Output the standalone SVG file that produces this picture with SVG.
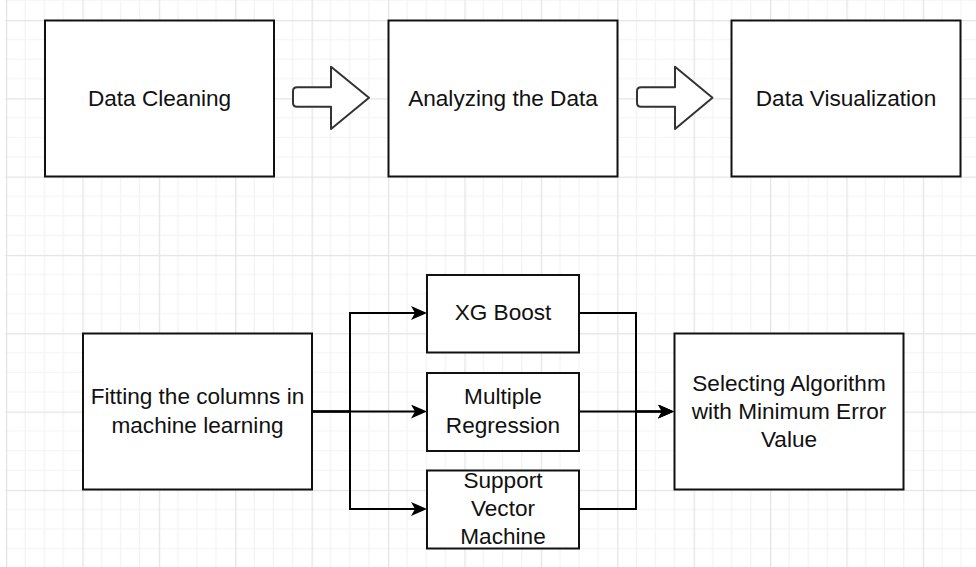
<svg xmlns="http://www.w3.org/2000/svg" width="976" height="567" viewBox="0 0 976 567">
  <defs>
    <!-- background grid: four minor cells per major cell -->
    <pattern id="grid" patternUnits="userSpaceOnUse" x="6" y="20" width="76.4" height="78.3">
      <g stroke="#f3f3f3" stroke-width="1.2">
        <line x1="19.1" y1="0" x2="19.1" y2="78.3"/>
        <line x1="38.2" y1="0" x2="38.2" y2="78.3"/>
        <line x1="57.3" y1="0" x2="57.3" y2="78.3"/>
        <line x1="0" y1="19.58" x2="76.4" y2="19.58"/>
        <line x1="0" y1="39.15" x2="76.4" y2="39.15"/>
        <line x1="0" y1="58.73" x2="76.4" y2="58.73"/>
      </g>
      <g stroke="#e4e4e4" stroke-width="1.3">
        <line x1="0.6" y1="0" x2="0.6" y2="78.3"/>
        <line x1="0" y1="0.6" x2="76.4" y2="0.6"/>
      </g>
    </pattern>
    <marker id="arrow" markerUnits="userSpaceOnUse" viewBox="0 0 16 14" refX="12" refY="7" markerWidth="16" markerHeight="14" orient="auto">
      <path d="M0,0 L16,7 L0,14 L4,7 Z" fill="#000"/>
    </marker>
  </defs>
  <style>
    .box { fill: #fff; stroke: #111; stroke-width: 2; }
    .label { font-family: "Liberation Sans", Arial, sans-serif; font-size: 22.6px; fill: #111; text-anchor: middle; }
    .block { fill: #fff; stroke: #333; stroke-width: 2; stroke-linejoin: round; }
    .edge { fill: none; stroke: #000; stroke-width: 2; marker-end: url(#arrow); }
  </style>

  <rect width="976" height="567" fill="#fff"/>
  <rect x="5" y="0" width="971" height="567" fill="url(#grid)"/>

  <!-- top row -->
  <g id="data-cleaning">
    <rect class="box" x="45" y="20.5" width="229" height="156"/>
    <text class="label" x="159.5" y="105.5">Data Cleaning</text>
  </g>
  <g id="block-arrow-1">
    <path class="block" d="M297,87.3 H331 V66.7 L369,97.7 L331,129 V106.7 H297 Q293,106.7 293,102.7 V91.3 Q293,87.3 297,87.3 Z"/>
  </g>
  <g id="analyzing">
    <rect class="box" x="388.5" y="20.5" width="229" height="156"/>
    <text class="label" x="503" y="105.5">Analyzing the Data</text>
  </g>
  <g id="block-arrow-2">
    <path class="block" d="M641,87.3 H675 V66.7 L712.5,97.7 L675,129 V106.7 H641 Q637,106.7 637,102.7 V91.3 Q637,87.3 641,87.3 Z"/>
  </g>
  <g id="data-visualization">
    <rect class="box" x="731.5" y="20.5" width="229" height="156"/>
    <text class="label" x="846" y="105.5">Data Visualization</text>
  </g>

  <!-- connectors -->
  <g id="connectors">
    <path class="edge" d="M312,411.5 H423"/>
    <path class="edge" d="M312,411.5 H350 V313 H423"/>
    <path class="edge" d="M312,411.5 H350 V509 H423"/>
    <path class="edge" d="M579,313 H636 V411.5 H670"/>
    <path class="edge" d="M579,411.5 H670"/>
    <path class="edge" d="M579,509 H636 V411.5 H670"/>
  </g>

  <!-- bottom row -->
  <g id="fitting">
    <rect class="box" x="83" y="333.5" width="229" height="156"/>
    <text class="label" x="197.5" y="404">Fitting the columns in</text>
    <text class="label" x="197.5" y="432.5">machine learning</text>
  </g>
  <g id="xg-boost">
    <rect class="box" x="427" y="275" width="152" height="77.5"/>
    <text class="label" x="503" y="320">XG Boost</text>
  </g>
  <g id="multiple-regression">
    <rect class="box" x="427" y="373" width="152" height="78"/>
    <text class="label" x="503" y="404">Multiple</text>
    <text class="label" x="503" y="432.5">Regression</text>
  </g>
  <g id="svm">
    <rect class="box" x="427" y="470.5" width="152" height="78"/>
    <text class="label" x="503" y="488">Support</text>
    <text class="label" x="503" y="516">Vector</text>
    <text class="label" x="503" y="544">Machine</text>
  </g>
  <g id="selecting">
    <rect class="box" x="674.5" y="333.5" width="229" height="156"/>
    <text class="label" x="789" y="390.5">Selecting Algorithm</text>
    <text class="label" x="789" y="418.5">with Minimum Error</text>
    <text class="label" x="789" y="446.5">Value</text>
  </g>
</svg>
